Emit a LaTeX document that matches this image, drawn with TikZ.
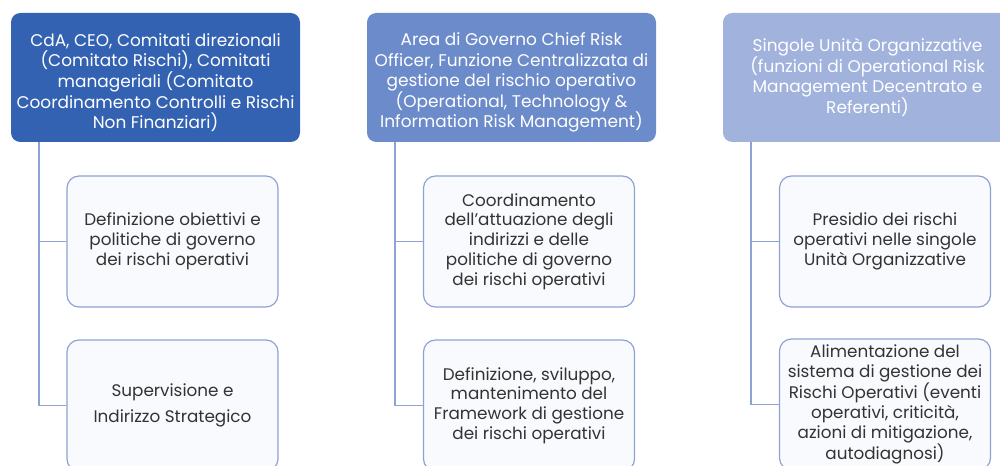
\documentclass[tikz,border=0pt]{standalone}
\usepackage{fontspec}
\setmainfont{Poppins}
\usepackage{tikz}
\usetikzlibrary{positioning}

\definecolor{headdark}{HTML}{3462B2}
\definecolor{headmid}{HTML}{6C8BCA}
\definecolor{headlight}{HTML}{A1B3DD}
\definecolor{leafline}{HTML}{8FA2D4}
\definecolor{leaffill}{HTML}{F9FAFD}
\definecolor{leaftext}{HTML}{333333}

\begin{document}
\begin{tikzpicture}[
  x=0.75pt, y=-0.75pt,
  headbox/.style={rectangle, rounded corners=7pt, draw=none, align=center, text=white,
    minimum width=216.75pt, minimum height=96.75pt, inner sep=2pt,
    font=\fontsize{12.7}{15.4}\selectfont},
  leafbox/.style={rectangle, rounded corners=9pt, draw=leafline, line width=0.9pt, fill=leaffill,
    align=center, text=leaftext, minimum width=158.25pt, minimum height=98.25pt, inner sep=2pt,
    font=\fontsize{12.6}{14.8}\selectfont},
  link/.style={draw=leafline, line width=1.3pt}
]
\useasboundingbox (0,0) rectangle (1000,466);

% top level
\node[headbox, fill=headdark, text height=79pt] (h1) at (155.5,77.5)
  {CdA, CEO, Comitati direzionali\\(Comitato Rischi), Comitati\\manageriali (Comitato\\Coordinamento Controlli e Rischi\\Non Finanziari)};
\node[headbox, fill=headmid, text height=79pt] (h2) at (511.5,77.5)
  {Area di Governo Chief Risk\\Officer, Funzione Centralizzata di\\gestione del rischio operativo\\(Operational, Technology \&\\Information Risk Management)};
\node[headbox, fill=headlight] (h3) at (867.5,77.5)
  {Singole Unità Organizzative\\(funzioni di Operational Risk\\Management Decentrato e\\Referenti)};

% second level
\node[leafbox] (l11) at (172.5,241.5)
  {Definizione obiettivi e\\politiche di governo\\dei rischi operativi};
\node[leafbox] (l12) at (172.5,405.5)
  {Supervisione e\\[5pt]Indirizzo Strategico};
\node[leafbox] (l21) at (529,241.5)
  {Coordinamento\\dell’attuazione degli\\indirizzi e delle\\politiche di governo\\dei rischi operativi};
\node[leafbox] (l22) at (529,405.5)
  {Definizione, sviluppo,\\mantenimento del\\Framework di gestione\\dei rischi operativi};
\node[leafbox] (l31) at (885,241.5)
  {Presidio dei rischi\\operativi nelle singole\\Unità Organizzative};
\node[leafbox] (l32) at (885,404.5)
  {Alimentazione del\\sistema di gestione dei\\Rischi Operativi (eventi\\operativi, criticità,\\azioni di mitigazione,\\autodiagnosi)};

% tree connectors
\foreach \col in {1,2,3} {
  \draw[link] ([xshift=21pt]h\col.south west) |- (l\col1.west);
  \draw[link] ([xshift=21pt]h\col.south west) |- (l\col2.west);
}

\end{tikzpicture}
\end{document}
